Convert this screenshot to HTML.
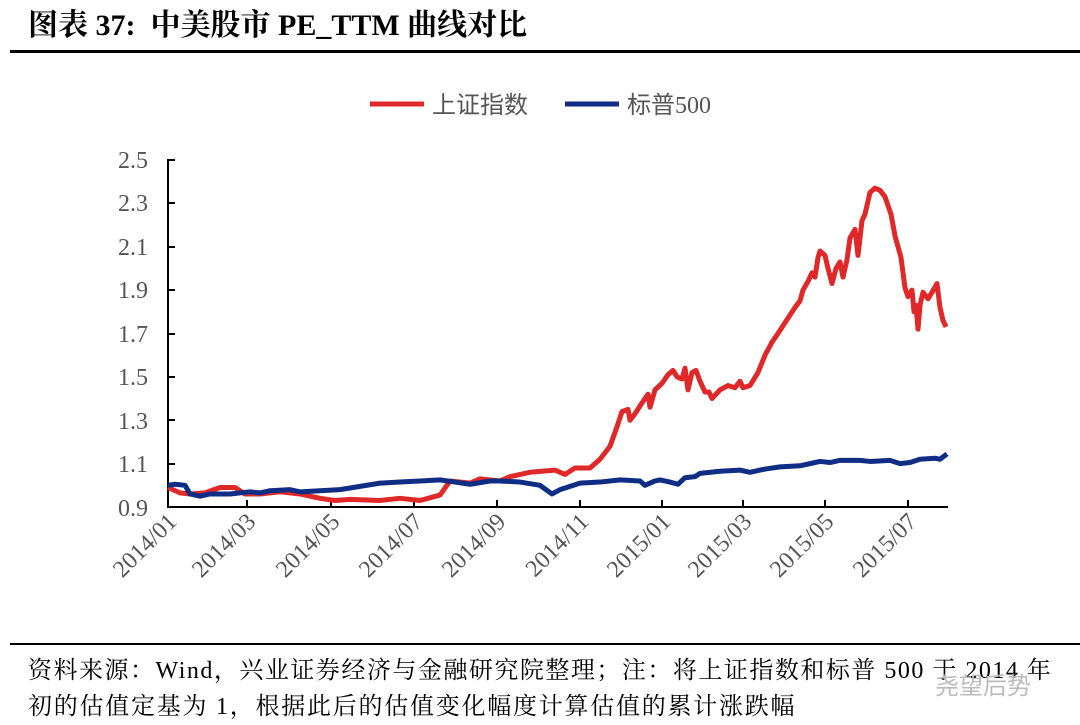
<!DOCTYPE html>
<html><head><meta charset="utf-8"><style>
body{margin:0;width:1080px;height:725px;background:#fff;overflow:hidden;position:relative;font-family:"Liberation Serif","Noto Serif CJK SC",serif}
.t{position:absolute;white-space:nowrap}
</style></head><body>
<div class="t" style="left:28px;top:0px;font-size:30px;font-weight:bold;color:#000;font-family:'Liberation Serif','Noto Serif CJK SC',serif">图表 37:&nbsp; 中美股市 PE_TTM 曲线对比</div>
<div style="position:absolute;left:10px;top:50px;width:1070px;height:3px;background:#000"></div>
<svg width="1080" height="725" style="position:absolute;left:0;top:0" font-family="Liberation Serif, Noto Serif CJK SC, serif">
<line x1="370" y1="104" x2="424" y2="104" stroke="#e12828" stroke-width="5"/>
<text x="432" y="113" font-size="24" fill="#555" font-family="Liberation Sans, Noto Sans CJK SC, sans-serif">上证指数</text>
<line x1="565" y1="104" x2="619" y2="104" stroke="#0f2d84" stroke-width="5"/>
<text x="627" y="113" font-size="24" fill="#555" font-family="Liberation Sans, Noto Sans CJK SC, sans-serif">标普<tspan font-family="Liberation Serif, serif">500</tspan></text>
<g font-size="24" fill="#555" text-anchor="end">
<text x="148" y="168">2.5</text><text x="148" y="211">2.3</text><text x="148" y="255">2.1</text><text x="148" y="298">1.9</text><text x="148" y="342">1.7</text><text x="148" y="385">1.5</text><text x="148" y="429">1.3</text><text x="148" y="472">1.1</text><text x="148" y="516">0.9</text>
</g>
<g stroke="#000" stroke-width="2">
<line x1="168" y1="159" x2="168" y2="508"/>
<line x1="167" y1="507" x2="948" y2="507"/>
<line x1="168" y1="160" x2="175" y2="160"/><line x1="168" y1="203" x2="175" y2="203"/><line x1="168" y1="247" x2="175" y2="247"/><line x1="168" y1="290" x2="175" y2="290"/><line x1="168" y1="334" x2="175" y2="334"/><line x1="168" y1="377" x2="175" y2="377"/><line x1="168" y1="420" x2="175" y2="420"/><line x1="168" y1="464" x2="175" y2="464"/>
<line x1="247" y1="500" x2="247" y2="507"/><line x1="331" y1="500" x2="331" y2="507"/><line x1="414" y1="500" x2="414" y2="507"/><line x1="497" y1="500" x2="497" y2="507"/><line x1="580" y1="500" x2="580" y2="507"/><line x1="662" y1="500" x2="662" y2="507"/><line x1="743" y1="500" x2="743" y2="507"/><line x1="825" y1="500" x2="825" y2="507"/><line x1="908" y1="500" x2="908" y2="507"/>
</g>
<g font-size="24" fill="#555" text-anchor="end">
<text transform="translate(178,523) rotate(-45)">2014/01</text>
<text transform="translate(257,523) rotate(-45)">2014/03</text>
<text transform="translate(341,523) rotate(-45)">2014/05</text>
<text transform="translate(424,523) rotate(-45)">2014/07</text>
<text transform="translate(507,523) rotate(-45)">2014/09</text>
<text transform="translate(590,523) rotate(-45)">2014/11</text>
<text transform="translate(672,523) rotate(-45)">2015/01</text>
<text transform="translate(753,523) rotate(-45)">2015/03</text>
<text transform="translate(835,523) rotate(-45)">2015/05</text>
<text transform="translate(918,523) rotate(-45)">2015/07</text>
</g>
<g transform="matrix(1 0 0 -216.9 0 702.21)" fill="none" stroke-linejoin="round">
<polyline vector-effect="non-scaling-stroke" stroke="#e12828" stroke-width="5" points="168,0.99 180,0.965 190,0.96 205,0.965 220,0.99 235,0.99 245,0.96 260,0.96 280,0.97 300,0.96 320,0.94 335,0.93 350,0.935 380,0.93 400,0.94 420,0.93 440,0.955 450,1.02 470,1.01 480,1.03 500,1.02 510,1.04 530,1.06 555,1.07 565,1.05 575,1.08 590,1.08 600,1.12 610,1.18 617,1.27 622,1.34 628,1.35 630,1.30 635,1.33 642,1.38 648,1.42 650,1.36 655,1.44 662,1.47 668,1.51 673,1.53 677,1.50 682,1.49 685,1.54 688,1.44 692,1.52 696,1.53 700,1.48 705,1.43 709,1.43 712,1.40 720,1.44 728,1.46 735,1.45 740,1.48 743,1.45 750,1.46 758,1.52 765,1.6 772,1.66 778,1.70 785,1.75 795,1.82 800,1.85 803,1.90 808,1.94 812,1.98 815,1.96 818,2.05 820,2.08 825,2.06 828,2.0 832,1.93 836,2.0 840,2.03 843,1.96 847,2.04 850,2.14 855,2.18 858,2.06 862,2.22 865,2.25 870,2.35 875,2.37 880,2.36 885,2.33 888,2.29 891,2.25 895,2.15 898,2.10 901,2.05 905,1.91 908,1.87 912,1.90 914,1.80 916,1.83 918,1.72 920,1.83 923,1.89 928,1.86 932,1.89 937,1.93 940,1.82 943,1.76 946,1.73"/>
<polyline vector-effect="non-scaling-stroke" stroke="#0f2d84" stroke-width="5" points="168,1.0 175,1.005 185,1.0 190,0.96 200,0.95 210,0.96 230,0.96 250,0.97 260,0.965 270,0.975 290,0.98 300,0.97 320,0.975 340,0.98 360,0.995 380,1.01 400,1.015 420,1.02 440,1.025 455,1.015 470,1.005 490,1.02 500,1.02 520,1.015 540,1.0 552,0.96 560,0.98 580,1.01 600,1.015 620,1.025 640,1.02 645,1.0 655,1.02 660,1.025 670,1.015 678,1.005 685,1.035 695,1.04 700,1.055 720,1.065 740,1.07 750,1.06 765,1.075 780,1.085 800,1.09 810,1.1 820,1.11 830,1.105 840,1.115 860,1.115 870,1.11 890,1.115 900,1.1 910,1.105 920,1.12 935,1.125 940,1.12 947,1.145"/>
</g>
</svg>
<div style="position:absolute;left:10px;top:643px;width:1070px;height:2px;background:#000"></div>
<div class="t" style="left:28px;top:650px;font-size:24px;letter-spacing:1.5px;color:#000">资料来源：Wind，兴业证券经济与金融研究院整理；注：将上证指数和标普 500 于 2014 年</div>
<div class="t" style="left:28px;top:686px;font-size:24px;letter-spacing:1.75px;color:#000">初的估值定基为 1，根据此后的估值变化幅度计算估值的累计涨跌幅</div>
<div class="t" style="left:935px;top:666px;font-size:24px;color:#bbb;font-family:'Liberation Sans','Noto Sans CJK SC',sans-serif">尧望后势</div>
</body></html>
